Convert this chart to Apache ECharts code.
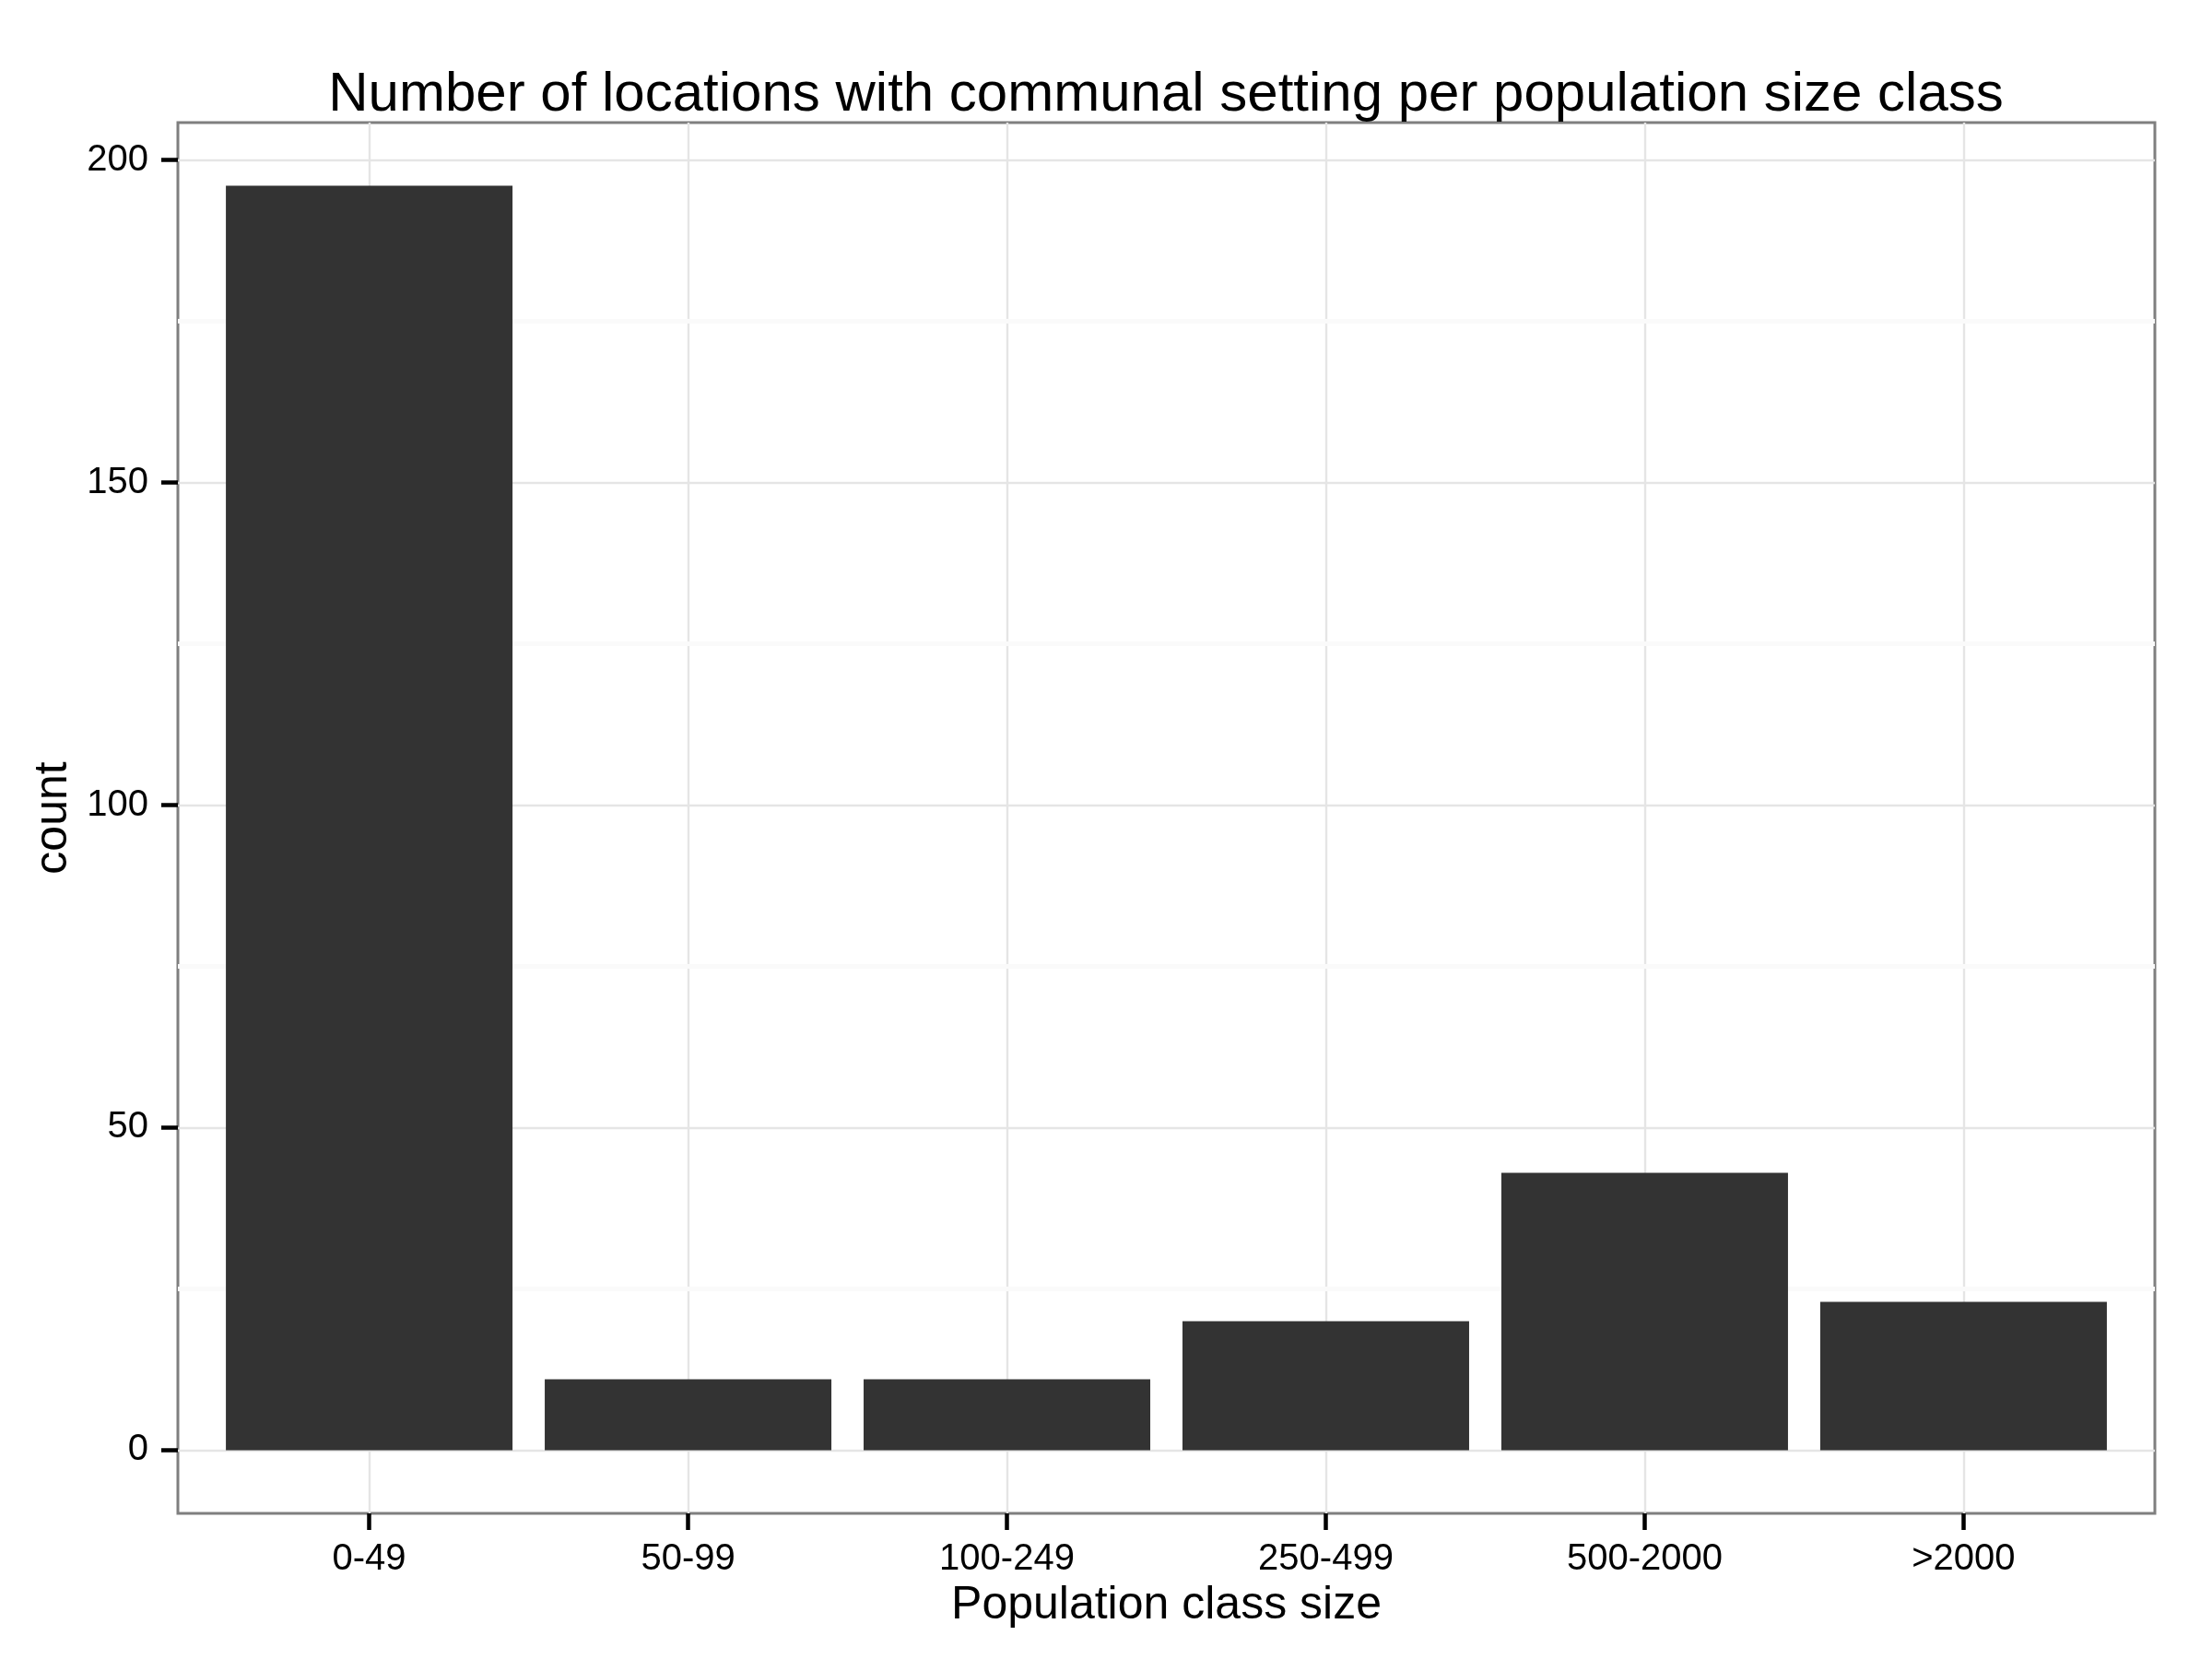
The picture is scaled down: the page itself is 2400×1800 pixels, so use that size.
<!DOCTYPE html>
<html>
<head>
<meta charset="utf-8">
<script src="https://cdn.jsdelivr.net/npm/echarts@6/dist/echarts.min.js"></script>
<style>
html,body{margin:0;padding:0;background:#fff;}
#chart{width:2400px;height:1800px;}
</style>
</head>
<body>
<div id="chart"></div>
<script>
const categories = ["0-49", "50-99", "100-249", "250-499", "500-2000", ">2000"];
const counts = [196, 11, 11, 20, 43, 23];
const yMajorTicks = [0, 50, 100, 150, 200];
const yMinorTicks = [25, 75, 125, 175];
const titleText = "Number of locations with communal setting per population size class";
const xTitle = "Population class size";
const yTitle = "count";

const FONT = "Liberation Sans, Arial, Helvetica, sans-serif";
const xPositions = categories.map((c, i) => i);
const chart = echarts.init(document.getElementById('chart'), null, {renderer: 'canvas'});

const option = {
  backgroundColor: '#ffffff',
  animation: false,
  title: {
    text: titleText,
    left: 1265,
    top: 73,
    padding: 0,
    textAlign: 'center',
    textStyle: {fontFamily: FONT, fontSize: 60, fontWeight: 'normal', color: '#000'}
  },
  grid: {
    left: 193, top: 133, width: 2145, height: 1509,
    show: true, backgroundColor: '#ffffff', borderColor: '#7f7f7f', borderWidth: 3,
    containLabel: false
  },
  xAxis: [{
    type: 'value',
    min: -0.6, max: 5.6,
    position: 'bottom',
    name: xTitle,
    nameLocation: 'middle',
    nameGap: 74,
    nameTextStyle: {fontFamily: FONT, fontSize: 50, color: '#000'},
    axisLine: {show: false, onZero: false},
    axisTick: {show: true, customValues: xPositions, length: 18, lineStyle: {color: '#000', width: 4.5}},
    axisLabel: {
      show: true, customValues: xPositions, margin: 30,
      fontFamily: FONT, fontSize: 40, color: '#000',
      formatter: v => categories[Math.round(v)]
    },
    splitLine: {show: true, lineStyle: {color: '#e5e5e5', width: 2.4}}
  }],
  yAxis: [{
    type: 'value',
    min: -9.8, max: 205.8,
    position: 'left',
    name: yTitle,
    nameLocation: 'middle',
    nameRotate: 90,
    nameGap: 102,
    nameTextStyle: {fontFamily: FONT, fontSize: 50, color: '#000'},
    axisLine: {show: false, onZero: false},
    axisTick: {show: true, customValues: yMajorTicks, length: 18, lineStyle: {color: '#000', width: 4.5}},
    axisLabel: {show: true, customValues: yMajorTicks, margin: 32, fontFamily: FONT, fontSize: 40, color: '#000'},
    splitLine: {show: true, lineStyle: {color: '#e5e5e5', width: 2.4}},
    z: 2
  }, {
    type: 'value',
    position: 'left',
    min: -9.8, max: 205.8,
    axisLine: {show: false, onZero: false},
    axisTick: {show: false, customValues: yMinorTicks},
    axisLabel: {show: false, customValues: yMinorTicks},
    splitLine: {show: true, lineStyle: {color: '#fafafa', width: 5}},
    z: 1
  }],
  series: [{
    type: 'bar',
    xAxisIndex: 0,
    yAxisIndex: 0,
    barWidth: 311,
    itemStyle: {color: '#333333'},
    data: categories.map((c, i) => [i, counts[i]]),
    z: 3
  }]
};
chart.setOption(option);
</script>
</body>
</html>
